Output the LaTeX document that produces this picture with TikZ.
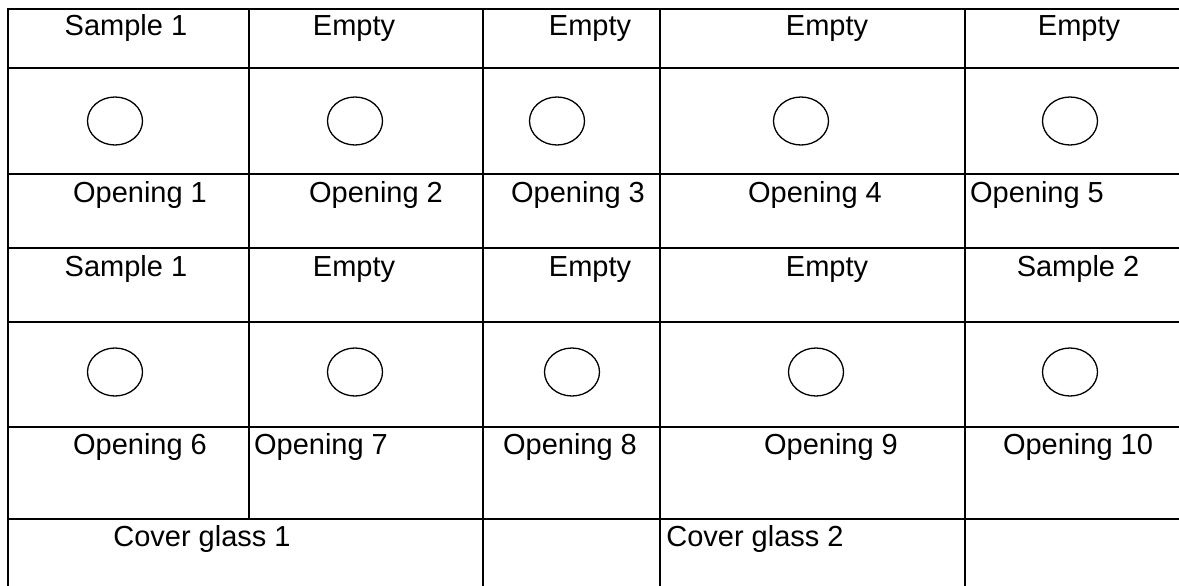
\documentclass[tikz,border=0pt]{standalone}
\usepackage{fontspec}
\setmainfont{Liberation Sans}
\usetikzlibrary{shapes.geometric}

\tikzset{
  rule/.style={line width=1.25pt,line cap=rect},
  hole/.style={draw,ellipse,line width=0.65pt,minimum width=27.5pt,minimum height=24pt,inner sep=0pt},
  cell/.style={anchor=base,inner sep=0pt,font=\fontsize{14.5}{17}\selectfont}
}

\begin{document}
\begin{tikzpicture}[x=0.5pt,y=-0.5pt]
  \useasboundingbox (0,0) rectangle (1179,585);
  % table rules
  \foreach \y in {9,68,174,248,322,427,519}
    \draw[rule] (8,\y) -- (1179,\y);
  \draw[rule] (8,9) -- (8,585);
  \draw[rule] (249,9) -- (249,519);
  \foreach \x in {483,660,965}
    \draw[rule] (\x,9) -- (\x,585);
  % upper slide
  \node[cell] (s1) at (126,35) {Sample 1};
  \node[cell] (s2) at (354,35) {Empty};
  \node[cell] (s3) at (590,35) {Empty};
  \node[cell] (s4) at (827,35) {Empty};
  \node[cell] (s5) at (1079,35) {Empty};
  \node[hole] (h1) at (115,121) {};
  \node[hole] (h2) at (355,121) {};
  \node[hole] (h3) at (557,121) {};
  \node[hole] (h4) at (801,121) {};
  \node[hole] (h5) at (1070,121) {};
  \node[cell] (o1) at (140,202) {Opening 1};
  \node[cell] (o2) at (376,202) {Opening 2};
  \node[cell] (o3) at (578,202) {Opening 3};
  \node[cell] (o4) at (815,202) {Opening 4};
  \node[cell] (o5) at (1037,202) {Opening 5};
  % lower slide
  \node[cell] (s6) at (126,276) {Sample 1};
  \node[cell] (s7) at (354,276) {Empty};
  \node[cell] (s8) at (590,276) {Empty};
  \node[cell] (s9) at (827,276) {Empty};
  \node[cell] (s10) at (1078,276) {Sample 2};
  \node[hole] (h6) at (115,372) {};
  \node[hole] (h7) at (355,372) {};
  \node[hole] (h8) at (572,372) {};
  \node[hole] (h9) at (816,372) {};
  \node[hole] (h10) at (1070,372) {};
  \node[cell] (o6) at (140,454) {Opening 6};
  \node[cell] (o7) at (321,454) {Opening 7};
  \node[cell] (o8) at (570,454) {Opening 8};
  \node[cell] (o9) at (831,454) {Opening 9};
  \node[cell] (o10) at (1078,454) {Opening 10};
  % cover glasses
  \node[cell] (c1) at (202,546) {Cover glass 1};
  \node[cell] (c2) at (755,546) {Cover glass 2};
\end{tikzpicture}
\end{document}
